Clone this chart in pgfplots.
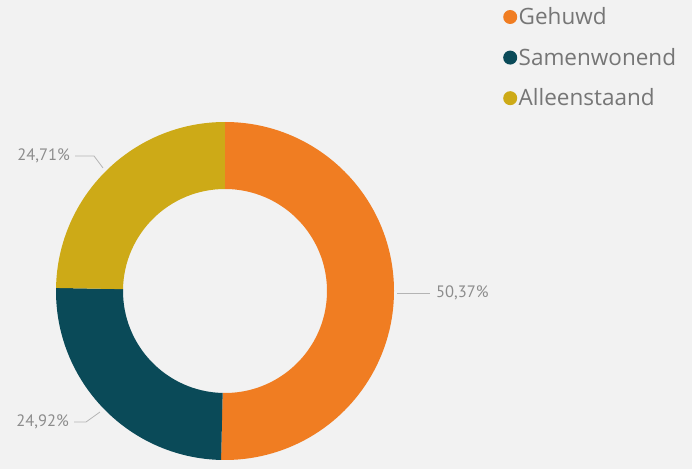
\documentclass[border=0pt]{standalone}
\usepackage{pgfplots}
\pgfplotsset{compat=1.18}
\usepackage{pgfplotstable}
\usepackage{fontspec}
\setmainfont{Open Sans}
\newfontfamily\labelfont{PT Sans}
\definecolor{bg}{HTML}{F2F2F2}
\definecolor{cOrange}{HTML}{F07D22}
\definecolor{cTeal}{HTML}{0A4A58}
\definecolor{cMustard}{HTML}{CDAA17}
\definecolor{txt}{HTML}{767676}
\definecolor{lbl}{HTML}{8C8C8C}
\definecolor{leader}{HTML}{B4B4B4}

\pgfplotstableread{
label value
Gehuwd 50.37
Samenwonend 24.92
Alleenstaand 24.71
}\donutdata

\begin{document}
\begin{tikzpicture}
\pgfplotstablegetelem{0}{value}\of\donutdata \let\vA\pgfplotsretval
\pgfplotstablegetelem{1}{value}\of\donutdata \let\vB\pgfplotsretval
\pgfplotstablegetelem{2}{value}\of\donutdata \let\vC\pgfplotsretval
\pgfmathsetmacro\tot{\vA+\vB+\vC}
\pgfmathsetmacro\fA{\vA/\tot}
\pgfmathsetmacro\fB{\vB/\tot}
\pgfmathsetmacro\fC{\vC/\tot}
\pgfmathsetmacro\aA{90}
\pgfmathsetmacro\aB{\aA-360*\fA}
\pgfmathsetmacro\aC{\aB-360*\fB}
\pgfmathsetmacro\aD{\aC-360*\fC}
\begin{axis}[
  x=1pt, y=1pt,
  xmin=0, xmax=692, ymin=0, ymax=469,
  hide axis, clip=false,
  legend image code/.code={\path[draw=none,fill=none] (-7pt,-7pt) rectangle (7pt,7pt); \fill[#1,draw=none] (0,0) circle (7pt);},
  legend cell align=left,
  legend style={at={(axis cs:503,463)}, anchor=north west, draw=none, fill=none,
    inner sep=0pt, row sep=19pt, column sep=0pt,
    nodes={inner sep=1.5pt, text=txt, font=\fontsize{22.5}{27}\selectfont}},
]
% background
\fill[bg] (axis cs:0,0) rectangle (axis cs:692,469);
% donut slices
\fill[cOrange] (axis cs:225,178) ++(\aA:169pt) arc[start angle=\aA,end angle=\aB,radius=169pt]
   -- ++(\aB:-67pt) arc[start angle=\aB,end angle=\aA,radius=102pt] -- cycle;
\fill[cTeal] (axis cs:225,178) ++(\aB:169pt) arc[start angle=\aB,end angle=\aC,radius=169pt]
   -- ++(\aC:-67pt) arc[start angle=\aC,end angle=\aB,radius=102pt] -- cycle;
\fill[cMustard] (axis cs:225,178) ++(\aC:169pt) arc[start angle=\aC,end angle=\aD,radius=169pt]
   -- ++(\aD:-67pt) arc[start angle=\aD,end angle=\aC,radius=102pt] -- cycle;
% leader lines and labels
\draw[leader, line width=0.8pt] (axis cs:397,176) -- (axis cs:430,176);
\node[anchor=west, text=lbl, inner sep=0pt, font=\labelfont\fontsize{16.5}{18}\selectfont] at (axis cs:436,176.5) {50,37\%};
\draw[leader, line width=0.8pt] (axis cs:100,57) -- (axis cs:86,47) -- (axis cs:74,47);
\node[anchor=east, text=lbl, inner sep=0pt, font=\labelfont\fontsize{16.5}{18}\selectfont] at (axis cs:69,47.5) {24,92\%};
\draw[leader, line width=0.8pt] (axis cs:103,301) -- (axis cs:94,313) -- (axis cs:75,313);
\node[anchor=east, text=lbl, inner sep=0pt, font=\labelfont\fontsize{16.5}{18}\selectfont] at (axis cs:70,313.5) {24,71\%};
% legend
\addlegendimage{fill=cOrange}
\addlegendentry{Gehuwd}
\addlegendimage{fill=cTeal}
\addlegendentry{Samenwonend}
\addlegendimage{fill=cMustard}
\addlegendentry{Alleenstaand}
\end{axis}
\end{tikzpicture}
\end{document}
